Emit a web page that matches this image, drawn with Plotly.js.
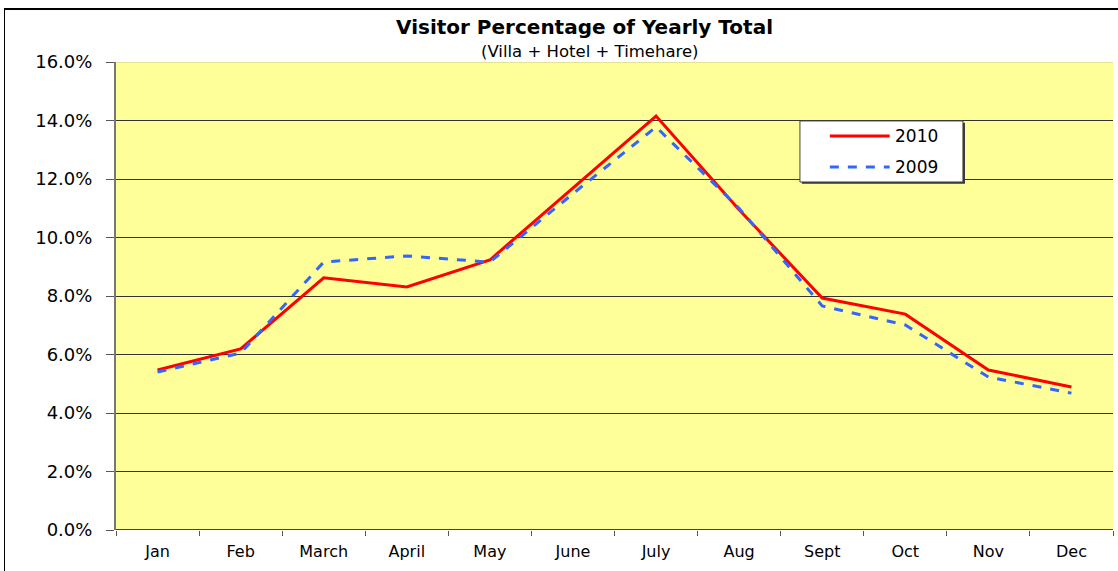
<!DOCTYPE html>
<html>
<head>
<meta charset="utf-8">
<script src="https://cdn.plot.ly/plotly-3.0.1.min.js"></script>
<style>
  html, body { margin: 0; padding: 0; background: #fff; }
  #wrap { position: relative; width: 1118px; height: 571px; }
  #chart { width: 1118px; height: 571px; }
  #frame { position: absolute; left: 4px; top: 8px; right: 0; bottom: 0; border-top: 2px solid #000; border-left: 1px solid #000; pointer-events: none; }
</style>
</head>
<body>
<div id="wrap">
  <div id="chart"></div>
  <div id="frame"></div>
</div>
<script>
const months = ["Jan", "Feb", "March", "April", "May", "June", "July", "Aug", "Sept", "Oct", "Nov", "Dec"];
const values2010 = [5.47, 6.19, 8.62, 8.31, 9.23, 11.7, 14.15, 10.95, 7.93, 7.38, 5.47, 4.89];
const values2009 = [5.40, 6.05, 9.16, 9.37, 9.16, 11.5, 13.78, 11.0, 7.66, 7.01, 5.23, 4.68];
const yTickVals = [0, 2, 4, 6, 8, 10, 12, 14, 16];
const yTickText = ["0.0%", "2.0%", "4.0%", "6.0%", "8.0%", "10.0%", "12.0%", "14.0%", "16.0%"];
const seriesNames = ["2010", "2009"];

const font = "DejaVu Sans, Liberation Sans, Arial, sans-serif";
const red = "#FF0000", blue = "#3366FF";

const traces = [
  {
    x: months, y: values2010, name: seriesNames[0], type: "scatter", mode: "lines",
    line: { color: red, width: 3 }
  },
  {
    x: months, y: values2009, name: seriesNames[1], type: "scatter", mode: "lines",
    line: { color: blue, width: 3, dash: "dash" }
  }
];

// legend geometry (paper fractions)
const lx0 = 0.686, lx1 = 0.8495, ly0 = 0.7436, ly1 = 0.874;
const lineX0 = 0.716, lineX1 = 0.776, textX = 0.779;
const row1 = 0.8419, row2 = 0.7756;

const layout = {
  width: 1118, height: 571,
  margin: { l: 116, r: 5, t: 62, b: 41 },
  paper_bgcolor: "rgba(0,0,0,0)",
  plot_bgcolor: "#FFFF99",
  font: { family: font, color: "#000" },
  showlegend: false,
  xaxis: {
    type: "category",
    tickson: "boundaries",
    ticks: "outside", ticklen: 5, tickcolor: "#555",
    ticklabelstandoff: 10,
    showline: false, showgrid: false, zeroline: false,
    tickfont: { size: 16, family: font },
    range: [-0.5, 11.5]
  },
  yaxis: {
    range: [0, 16],
    tickvals: yTickVals, ticktext: yTickText,
    ticks: "outside", ticklen: 8, tickcolor: "#555",
    ticklabelstandoff: 10,
    showline: true, linecolor: "#777", linewidth: 2,
    showgrid: true, gridcolor: "#333", gridwidth: 1,
    zeroline: false,
    tickfont: { size: 18, family: font }
  },
  shapes: [
    { type: "line", xref: "paper", yref: "y", x0: 0, x1: 1, y0: 0, y1: 0, line: { color: "#444", width: 2 } },
    { type: "line", xref: "paper", yref: "y", x0: 0, x1: 1, y0: 16, y1: 16, line: { color: "#C8C88A", width: 1 } },
    // legend shadow + box
    { type: "rect", xref: "paper", yref: "paper", x0: lx0 + 0.002, x1: lx1 + 0.002, y0: ly0 - 0.004, y1: ly1 - 0.004, line: { width: 0 }, fillcolor: "#333" },
    { type: "rect", xref: "paper", yref: "paper", x0: lx0, x1: lx1, y0: ly0, y1: ly1, line: { color: "#444", width: 1 }, fillcolor: "#FFFFFF" },
    { type: "line", xref: "paper", yref: "paper", x0: lineX0, x1: lineX1, y0: row1, y1: row1, line: { color: red, width: 3 } },
    { type: "line", xref: "paper", yref: "paper", x0: lineX0, x1: lineX1, y0: row2, y1: row2, line: { color: blue, width: 3, dash: "dash" } }
  ],
  annotations: [
    { text: "<b>Visitor Percentage of Yearly Total</b>", xref: "paper", yref: "paper", x: 0.47, y: 1, yanchor: "middle", yshift: 35, showarrow: false, font: { size: 20, family: font } },
    { text: "(Villa + Hotel + Timehare)", xref: "paper", yref: "paper", x: 0.475, y: 1, yanchor: "middle", yshift: 11, showarrow: false, font: { size: 16.5, family: font } },
    { text: seriesNames[0], xref: "paper", yref: "paper", x: textX, y: row1, xanchor: "left", yanchor: "middle", showarrow: false, font: { size: 17, family: font } },
    { text: seriesNames[1], xref: "paper", yref: "paper", x: textX, y: row2, xanchor: "left", yanchor: "middle", showarrow: false, font: { size: 17, family: font } }
  ]
};

Plotly.newPlot("chart", traces, layout, { displayModeBar: false, staticPlot: true });
</script>
</body>
</html>
